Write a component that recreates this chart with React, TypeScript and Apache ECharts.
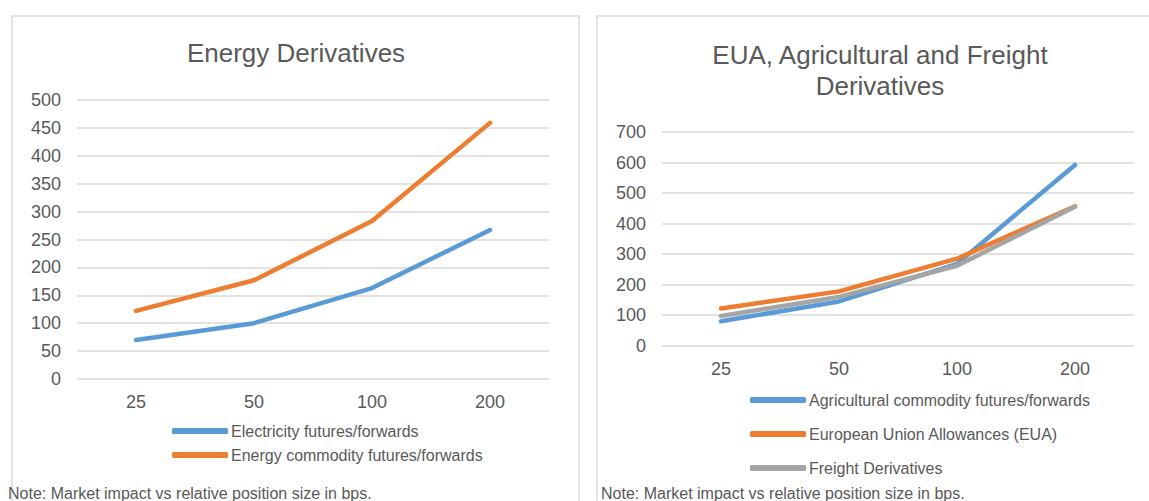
import React, { useEffect, useRef } from "react";
import * as echarts from "echarts";

const categories = ["25", "50", "100", "200"];

const electricity = [70, 100, 163, 267];
const energyCommodity = [122, 177, 283, 459];

const agricultural = [80, 145, 268, 592];
const eua = [122, 178, 285, 457];
const freight = [97, 160, 262, 455];

const leftTitle = "Energy Derivatives";
const rightTitleLines = ["EUA, Agricultural and Freight", "Derivatives"];
const noteText = "Note: Market impact vs relative position size in bps.";

const names = {
  electricity: "Electricity futures/forwards",
  energy: "Energy commodity futures/forwards",
  agri: "Agricultural commodity futures/forwards",
  eua: "European Union Allowances (EUA)",
  freight: "Freight Derivatives",
};

const BLUE = "#5B9BD5";
const ORANGE = "#ED7D31";
const GRAY = "#A5A5A5";
const TEXT = "#595959";
const GRID = "#D9D9D9";
const FONT = "'Liberation Sans', Arial, sans-serif";

export default function App() {
  const ref = useRef<HTMLDivElement>(null);
  useEffect(() => {
    if (!ref.current) return;
    const chart = echarts.init(ref.current, undefined, { renderer: "svg" });
    const axisLabel = { color: TEXT, fontSize: 18, fontFamily: FONT };
    const xAxisCommon = {
      type: "category" as const,
      data: categories,
      boundaryGap: true,
      axisLine: { show: false },
      axisTick: { show: false },
      axisLabel: { ...axisLabel, margin: 14 },
    };
    const yAxisCommon = {
      type: "value" as const,
      min: 0,
      axisLine: { show: false },
      axisTick: { show: false },
      axisLabel: { ...axisLabel, margin: 16 },
      splitLine: { lineStyle: { color: GRID, width: 1.5 } },
    };
    const lineSeries = (name: string, data: number[], color: string, idx: number) => ({
      type: "line" as const,
      name,
      data,
      xAxisIndex: idx,
      yAxisIndex: idx,
      symbol: "none",
      lineStyle: { color, width: 4.5, cap: "round", join: "round" },
      itemStyle: { color },
      emphasis: { disabled: true },
    });
    const legendCommon = {
      orient: "vertical" as const,
      icon: "roundRect",
      itemWidth: 56,
      itemHeight: 6,
      textStyle: { color: TEXT, fontSize: 16, fontFamily: FONT, padding: [0, 0, 0, -2] },
      selectedMode: false,
    };
    chart.setOption({
      animation: false,
      textStyle: { fontFamily: FONT },
      grid: [
        { left: 77, top: 100, width: 472, height: 279 },
        { left: 662, top: 132, width: 472, height: 213.7 },
      ],
      xAxis: [
        { ...xAxisCommon, gridIndex: 0 },
        { ...xAxisCommon, gridIndex: 1 },
      ],
      yAxis: [
        { ...yAxisCommon, gridIndex: 0, max: 500, interval: 50 },
        { ...yAxisCommon, gridIndex: 1, max: 700, interval: 100 },
      ],
      legend: [
        { ...legendCommon, left: 167, top: 418, itemGap: 8, data: [names.electricity, names.energy] },
        { ...legendCommon, left: 745, top: 387, itemGap: 18, data: [names.agri, names.eua, names.freight] },
      ],
      series: [
        lineSeries(names.electricity, electricity, BLUE, 0),
        lineSeries(names.energy, energyCommodity, ORANGE, 0),
        lineSeries(names.agri, agricultural, BLUE, 1),
        lineSeries(names.eua, eua, ORANGE, 1),
        lineSeries(names.freight, freight, GRAY, 1),
      ],
      graphic: [
        {
          type: "rect",
          shape: { x: 12, y: 16, width: 567, height: 520 },
          style: { fill: "none", stroke: GRID, lineWidth: 1.5 },
          silent: true,
          z: -10,
        },
        {
          type: "rect",
          shape: { x: 597, y: 16, width: 600, height: 520 },
          style: { fill: "none", stroke: GRID, lineWidth: 1.5 },
          silent: true,
          z: -10,
        },
        {
          type: "text",
          x: 296,
          y: 53,
          style: {
            text: leftTitle,
            fill: TEXT,
            font: `26px ${FONT}`,
            textAlign: "center",
            textVerticalAlign: "middle",
          },
        },
        {
          type: "text",
          x: 880,
          y: 55,
          style: {
            text: rightTitleLines[0],
            fill: TEXT,
            font: `26px ${FONT}`,
            textAlign: "center",
            textVerticalAlign: "middle",
          },
        },
        {
          type: "text",
          x: 880,
          y: 86,
          style: {
            text: rightTitleLines[1],
            fill: TEXT,
            font: `26px ${FONT}`,
            textAlign: "center",
            textVerticalAlign: "middle",
          },
        },
        {
          type: "text",
          x: 8,
          y: 493,
          style: {
            text: noteText,
            fill: TEXT,
            font: `16px ${FONT}`,
            textAlign: "left",
            textVerticalAlign: "middle",
          },
        },
        {
          type: "text",
          x: 601,
          y: 493,
          style: {
            text: noteText,
            fill: TEXT,
            font: `16px ${FONT}`,
            textAlign: "left",
            textVerticalAlign: "middle",
          },
        },
      ],
    });
    return () => chart.dispose();
  }, []);
  return (
    <div
      ref={ref}
      style={{ position: "absolute", left: 0, top: 0, width: 1149, height: 501, background: "#fff" }}
    />
  );
}
